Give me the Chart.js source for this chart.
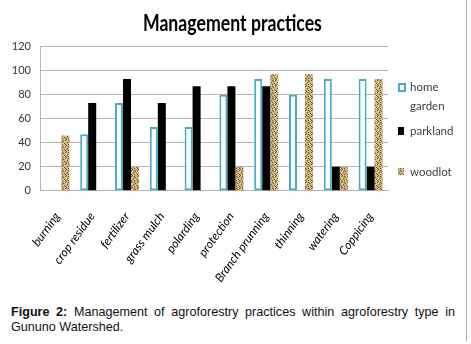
<!DOCTYPE html>
<html><head><meta charset="utf-8">
<script src="https://cdn.jsdelivr.net/npm/chart.js@4.4.0/dist/chart.umd.min.js"></script>
<style>
html,body{margin:0;padding:0;background:#fff;}
#wrap{position:relative;width:471px;height:344px;overflow:hidden;background:#fff;}
#frame{position:absolute;left:0;top:0;width:466px;height:341px;border-right:1px solid #b0b0b0;}
#cbox{position:absolute;left:0;top:0;width:466px;height:305px;}
#title{position:absolute;left:0;top:8px;width:465px;text-align:center;font-family:Lato,sans-serif;font-weight:bold;font-size:23px;line-height:28px;color:#000;white-space:nowrap;}
#title span{display:inline-block;transform-origin:50% 50%;}
#legend{position:absolute;left:398px;top:80px;font-family:Lato,sans-serif;font-size:11.5px;color:#404040;}
.li{position:absolute;left:0;white-space:nowrap;}
.mk{position:absolute;left:0;box-sizing:border-box;}
.tx{position:absolute;left:12px;line-height:14px;}
#caption{position:absolute;left:11px;top:305px;width:444px;font-family:'Liberation Sans',Arial,sans-serif;font-size:12.6px;text-align:justify;line-height:15px;color:#111;}
</style>
</head><body>
<div id="wrap">
<div id="frame"></div>
<div id="cbox"><canvas id="c" width="466" height="305"></canvas></div>
<div id="title"><span id="tspan">Management practices</span></div>
<div id="legend"></div>
<div id="caption"><b>Figure 2:</b> Management of agroforestry practices within agroforestry type in Gununo Watershed.</div>
</div>
<script>
const categories = ['burning','crop residue','fertilizer','grass mulch','polarding','protection','Branch prunning','thinning','watering','Coppicing'];
const seriesNames = ['home garden','parkland','woodlot'];
const homeGarden = [0, 47, 73, 53, 53, 80, 93, 80, 93, 93];
const parkland   = [0, 73, 93, 73, 87, 87, 87, 0, 20, 20];
const woodlot    = [46, 0, 20, 0, 0, 20, 97, 97, 20, 93];
const yTicks = [0, 20, 40, 60, 80, 100, 120];

// condense the title to the reference width
const ts=document.getElementById('tspan');
ts.style.transform='scaleX('+(179/ts.getBoundingClientRect().width)+')';

function burlapCanvas(){
  const c=document.createElement('canvas');c.width=6;c.height=6;
  const g=c.getContext('2d');
  g.fillStyle='#c9ae76';g.fillRect(0,0,6,6);
  g.fillStyle='#6e5530';
  [[0,1],[2,0],[3,3],[5,2],[1,4],[4,5],[2,2],[5,0]].forEach(p=>g.fillRect(p[0],p[1],1,1));
  g.fillStyle='#e6d5a8';
  [[1,1],[4,0],[0,3],[5,4],[3,5],[4,2]].forEach(p=>g.fillRect(p[0],p[1],1,1));
  return c;
}
const bc = burlapCanvas();
const ctx = document.getElementById('c').getContext('2d');
const woodPattern = ctx.createPattern(bc,'repeat');

const font = "Lato,sans-serif";

new Chart(ctx,{
  type:'bar',
  data:{
    labels:categories,
    datasets:[
      {label:seriesNames[0],data:homeGarden,backgroundColor:'#ffffff',borderColor:'#4aacc6',borderWidth:2,borderSkipped:false},
      {label:seriesNames[1],data:parkland,backgroundColor:'#000000',borderWidth:0},
      {label:seriesNames[2],data:woodlot,backgroundColor:woodPattern,borderWidth:0}
    ]
  },
  options:{
    responsive:false,animation:false,
    layout:{padding:{left:0,right:78,top:46.7,bottom:0}},
    datasets:{bar:{categoryPercentage:0.69,barPercentage:1}},
    plugins:{
      legend:{display:false},
      tooltip:{enabled:false},
      title:{display:false}
    },
    scales:{
      y:{min:0,max:120,
        afterBuildTicks:s=>{s.ticks=yTicks.map(v=>({value:v}));},
        afterFit:s=>{s.width=40;},
        ticks:{color:'#333',font:{family:font,size:11},padding:9},
        grid:{color:'#b5b5b5',drawTicks:false},
        border:{color:'#b5b5b5'}},
      x:{
        afterFit:s=>{s.height=114.3;},
        ticks:{color:'#000',font:{family:font,size:12,style:'italic'},minRotation:54,maxRotation:54,padding:19,autoSkip:false},
        grid:{display:false,drawTicks:false},
        border:{color:'#b5b5b5'}}
    }
  }
});

// HTML legend built from series names
const lg=document.getElementById('legend');
const items=[
  {top:3,mk:'width:8px;height:9px;border:2px solid #4aacc6;background:#fff;',lines:['home','garden']},
  {top:47,mk:'width:6px;height:8px;background:#000;',lines:['parkland']},
  {top:88,mk:'width:6px;height:7px;background:url('+bc.toDataURL()+');',lines:['woodlot']}
];
items.forEach((it,i)=>{
  const d=document.createElement('div');d.className='li';d.style.top=it.top+'px';
  const m=document.createElement('div');m.className='mk';m.style.cssText+=it.mk;m.style.top='0px';
  d.appendChild(m);
  const words = i===0 ? seriesNames[0].split(' ') : [seriesNames[i]];
  words.forEach((w,k)=>{const t=document.createElement('div');t.className='tx';t.textContent=w;t.style.top=(k*19-3)+'px';d.appendChild(t);});
  lg.appendChild(d);
});
</script>
</body></html>
